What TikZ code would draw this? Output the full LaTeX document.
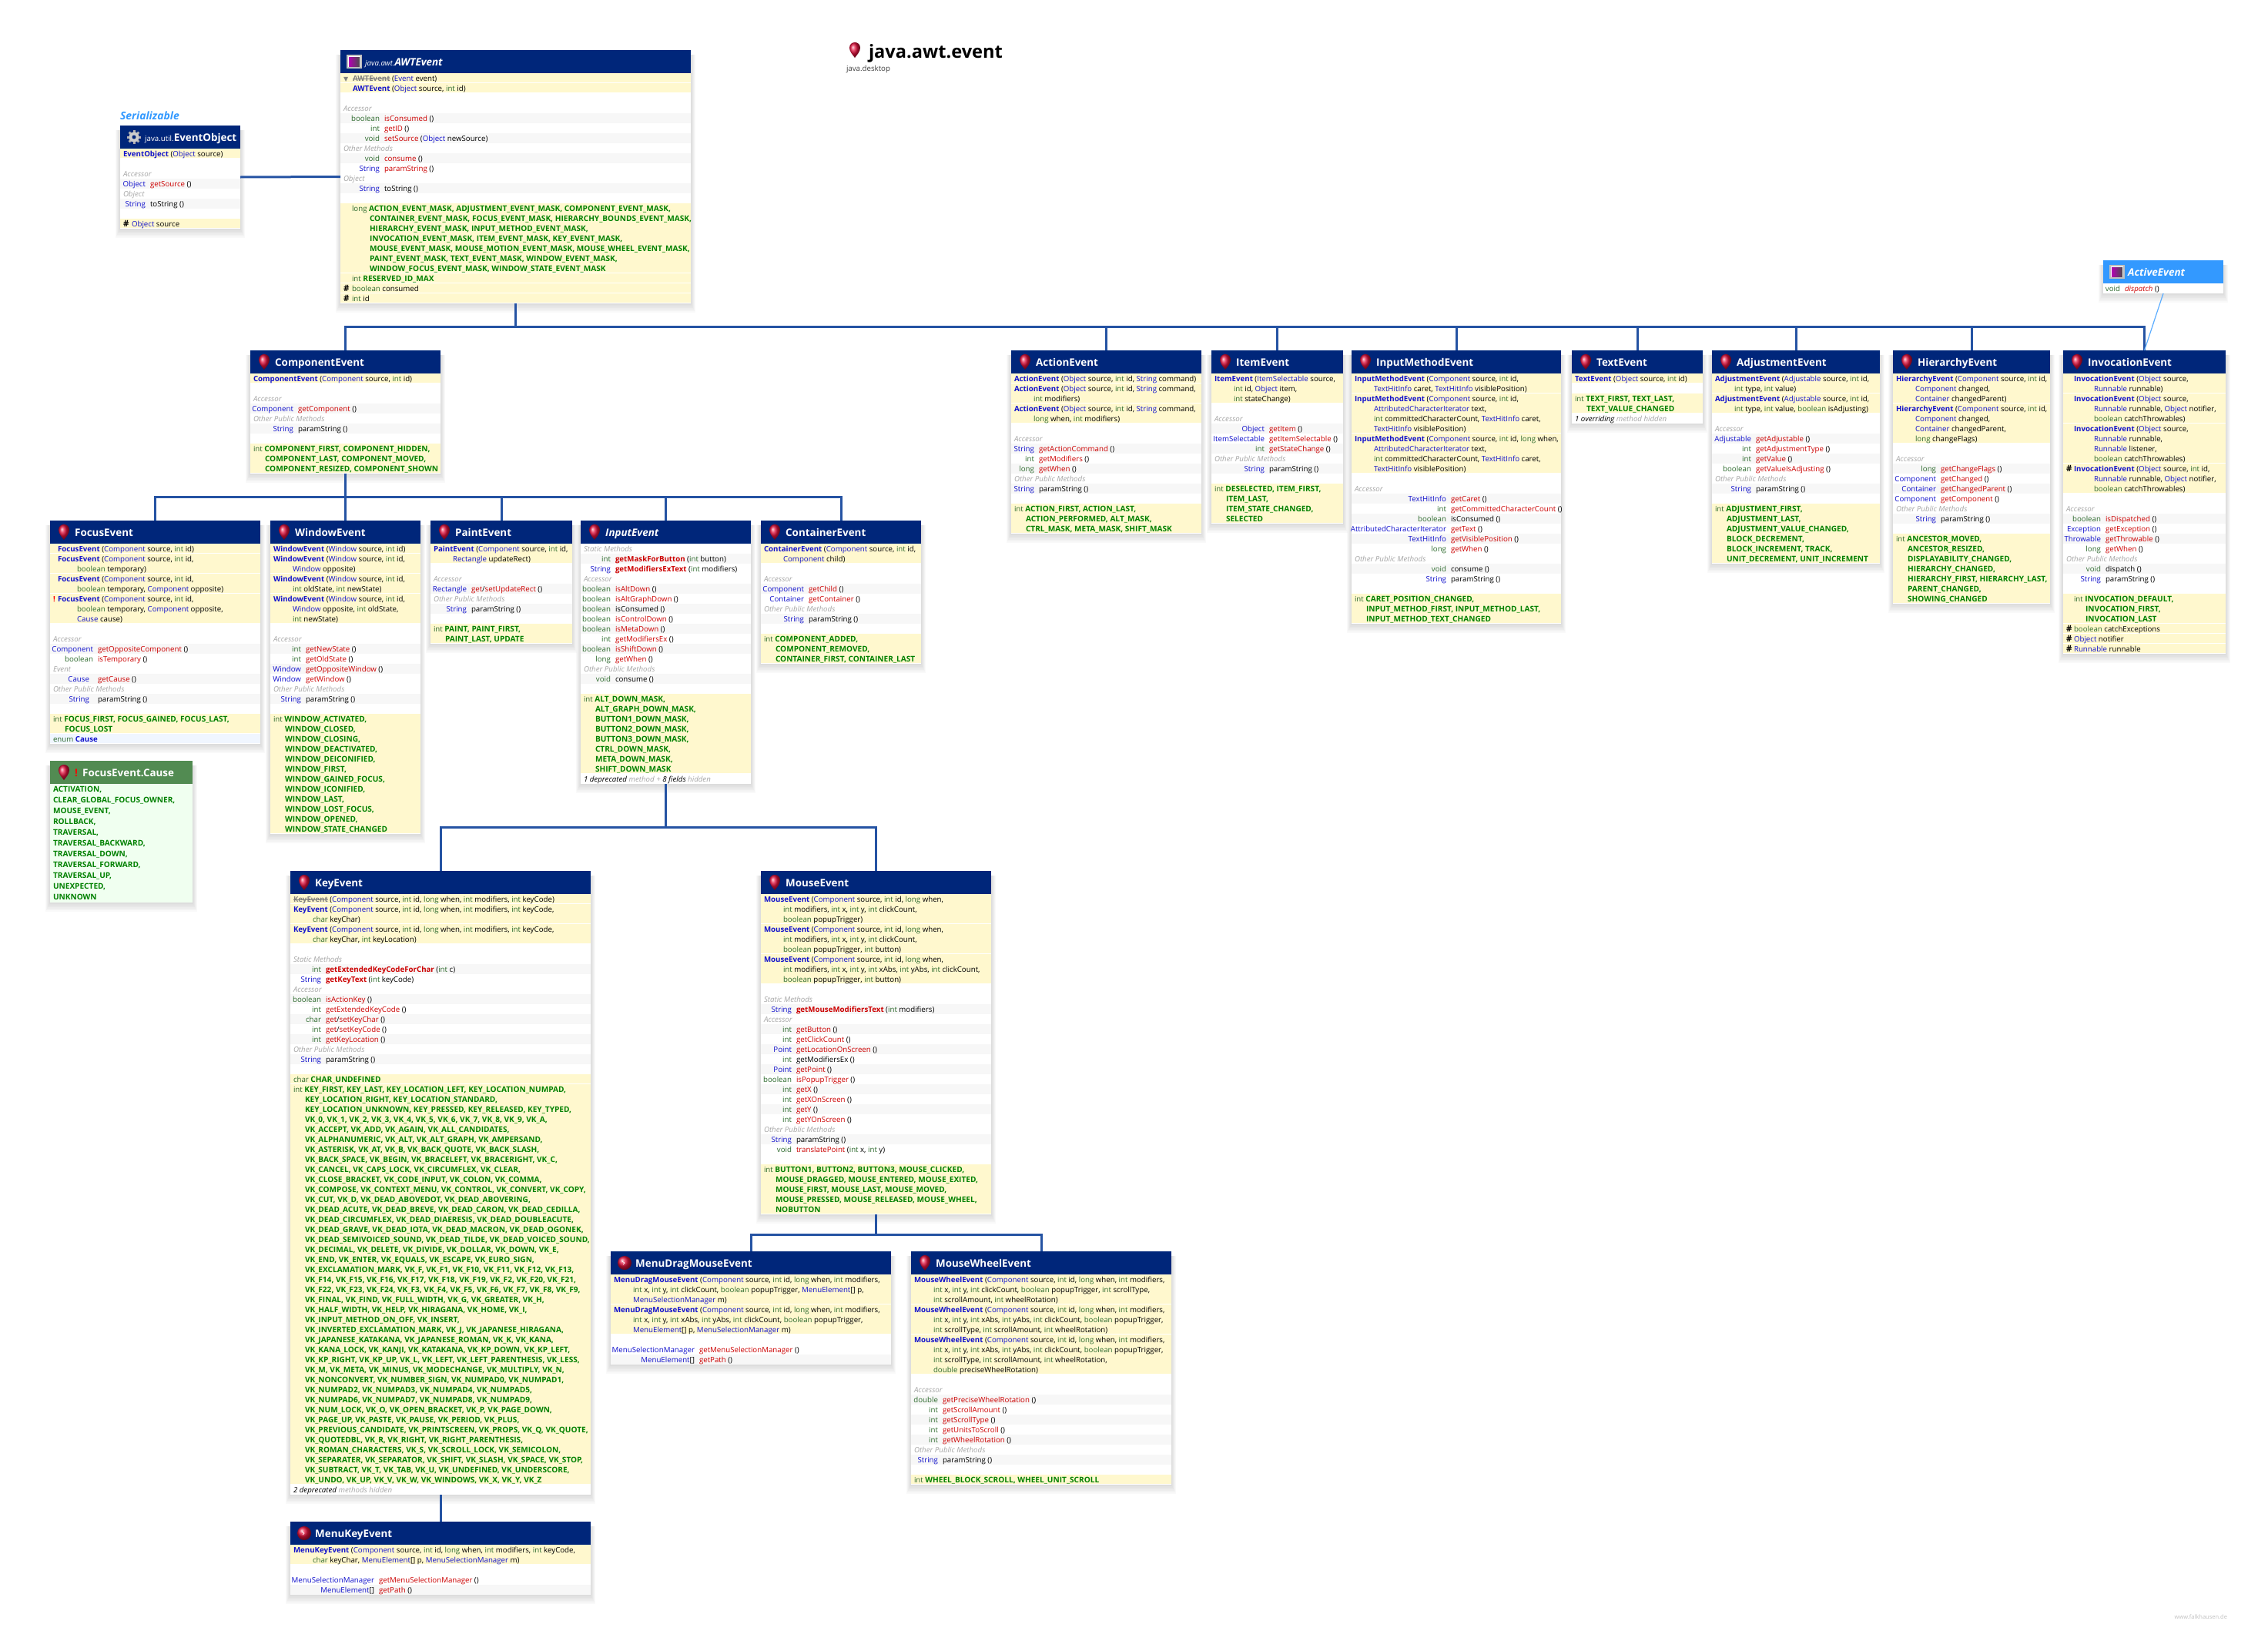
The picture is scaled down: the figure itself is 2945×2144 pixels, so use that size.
\documentclass[tikz,border=0pt]{standalone}
\usepackage{fontspec}
\setmainfont{Open Sans}
\newfontfamily\symfont{DejaVu Sans}

\definecolor{navyhead}{HTML}{00267A}
\definecolor{greenhead}{HTML}{528B52}
\definecolor{skyhead}{HTML}{3399FF}
\definecolor{bandyellow}{HTML}{FFF8CE}
\definecolor{bandblue}{HTML}{F0F6FF}
\definecolor{bandgreen}{HTML}{F0FFF0}
\definecolor{zebragray}{HTML}{F7F7F7}
\definecolor{kwgreen}{HTML}{2E6B2E}
\definecolor{tyblue}{HTML}{1111CC}
\definecolor{mtred}{HTML}{CC0000}
\definecolor{fdgreen}{HTML}{008000}
\definecolor{busblue}{HTML}{2553A3}
\definecolor{balloonred}{HTML}{E0103C}

\newcommand{\rowfont}{\fontsize{9.7}{13}\selectfont}
\newcommand{\kw}[1]{\textcolor{kwgreen}{#1}}
\newcommand{\ty}[1]{\textcolor{tyblue}{#1}}
\newcommand{\mt}[1]{\textcolor{mtred}{#1}}
\newcommand{\mbd}[1]{\textcolor{mtred}{\bfseries #1}}
\newcommand{\ct}[1]{\textcolor{tyblue}{\bfseries #1}}
\newcommand{\fd}[1]{\textcolor{fdgreen}{\fontsize{10.1}{13}\selectfont\bfseries #1}}
\newcommand{\dep}[1]{{\sbox0{\textcolor{gray}{\bfseries #1}}\usebox0\llap{\textcolor{gray}{\rule[2.6pt]{\wd0}{0.5pt}}}}}
\newcommand{\lowgray}[1]{\textcolor{black!35}{#1}}
\newcommand{\hashm}{{\fontsize{11.5}{13}\selectfont\bfseries\#}}

\tikzset{
  classbody/.style = {anchor=north west,fill=white,inner sep=0pt,outer sep=0pt},
  navyhead/.style = {anchor=north west,fill=navyhead,inner sep=0pt,outer sep=0pt},
  greenhead/.style = {anchor=north west,fill=greenhead,inner sep=0pt,outer sep=0pt},
  skyhead/.style = {anchor=north west,fill=skyhead,inner sep=0pt,outer sep=0pt},
  boxshadow/.style = {fill=black,opacity=.024},
  headtext/.style = {anchor=base west,inner sep=0pt,text=white,font=\fontsize{13.4}{15}\selectfont\bfseries},
  rowtext/.style = {anchor=base west,inner sep=0pt,outer sep=0pt,font=\rowfont},
  typetext/.style = {rowtext,anchor=base east},
  labeltext/.style = {rowtext,text=black!35,font=\rowfont\itshape},
  extends/.style = {draw=busblue,line width=3pt},
  implements/.style = {draw=skyhead!80!white,line width=1.2pt},
  pics/balloon/.style = {
    code = {
      \shade[ball color=balloonred] (0,10) .. controls (-3,6) and (-7,2) .. (-7,-3)
        .. controls (-7,-8) and (-3,-10) .. (0,-10) .. controls (3,-10) and (7,-8) .. (7,-3)
        .. controls (7,2) and (3,6) .. (0,10) -- cycle;
    }
  },
  pics/apple/.style = {
    code = {
      \shade[ball color=balloonred] (0,0) circle (9);
      \draw[white,line width=.7pt] (-3,-2) -- (0,0) -- (-2,2);
    }
  },
  pics/gearicon/.style = {
    code = {
      \foreach \a in {0,45,...,315} \draw[black!30,line width=3pt] (0,0) -- (\a:9);
      \fill[black!20] (0,0) circle (6.5);
      \fill[navyhead] (0,0) circle (2.5);
    }
  },
  pics/ifaceicon/.style = {
    code = {
      \fill[black!25] (-10,-9) rectangle (10,9);
      \fill[white] (-8,-7) rectangle (8,7);
      \shade[left color=magenta!70!black,right color=black!70] (-7,-6) rectangle (7,6);
    }
  }
}

\newcount\rowx
\newcount\rowr
\newcount\rowy
\newcount\rowno
\newif\ifzebra

% box with its header, then the rows run down from the header
\newcommand{\classbox}[8][navyhead]{%
  \foreach \s in {1,...,6} \fill[boxshadow] (#3-\s,#4+6) rectangle (#5+\s,#6+2*\s);
  \node[classbody,minimum width={(#5-#3)*1pt},minimum height={(#6-#4)*1pt}] (#2) at (#3,#4) {};
  \node[#1,minimum width={(#5-#3)*1pt},minimum height=30pt] (#2head) at (#2.north west) {};
  \pic at (#3+18,#4+15) {#7};
  \node[headtext] (#2title) at (#3+32,#4+20) {#8};
  \global\rowx=#3\relax
  \global\rowr=#5\relax
  \global\rowy=\numexpr#4+30\relax
  \global\zebrafalse
}
\newcommand{\band}[2][bandyellow]{%
  \fill[#1] (\the\rowx,\the\rowy) rectangle (\the\rowr,\the\numexpr\rowy+13*#2-1\relax);
}
\newcommand{\tline}[2]{%
  \global\advance\rowno by 1
  \node[rowtext] (row\the\rowno) at (\the\numexpr\rowx+#1\relax,\the\numexpr\rowy+10\relax) {#2};
  \global\advance\rowy by 13
}
\newcommand{\fl}[1]{\tline{19}{\fd{#1}}}
\newcommand{\rmark}[1]{%
  \global\advance\rowno by 1
  \node[rowtext] (row\the\rowno) at (\the\numexpr\rowx+4\relax,\the\numexpr\rowy+10\relax) {#1};
}
\newcommand{\gap}{\global\advance\rowy by 13 \global\zebrafalse}
\newcommand{\grp}[1]{%
  \global\advance\rowno by 1
  \node[labeltext] (row\the\rowno) at (\the\numexpr\rowx+4\relax,\the\numexpr\rowy+10\relax) {#1};
  \global\advance\rowy by 13
  \global\zebratrue
}
\newcommand{\meth}[3]{%
  \ifzebra \fill[zebragray] (\the\rowx,\the\rowy) rectangle (\the\rowr,\the\numexpr\rowy+13\relax); \global\zebrafalse \else \global\zebratrue \fi
  \global\advance\rowno by 1
  \node[typetext] (row\the\rowno t) at (\the\numexpr\rowx+#1\relax,\the\numexpr\rowy+10\relax) {#2};
  \node[rowtext] (row\the\rowno) at (\the\numexpr\rowx+#1+6\relax,\the\numexpr\rowy+10\relax) {#3};
  \global\advance\rowy by 13
}

\begin{document}
\begin{tikzpicture}[x=1pt,y=-1pt]
  \useasboundingbox (0,0) rectangle (2945,2144);

  % page title
  \pic at (1110,65) {balloon};
  \node[rowtext,font=\fontsize{23.6}{26}\selectfont\bfseries] (pkgname) at (1128,75) {java.awt.event};
  \node[rowtext,text=black!75] (modname) at (1099,92) {java.desktop};
  \node[rowtext,anchor=base east,text=black!25,font=\fontsize{7.5}{9}\selectfont] (siteurl) at (2892,2102) {www.falkhausen.de};

  % EventObject
  \node[rowtext,text=skyhead,font=\fontsize{14}{16}\selectfont\bfseries\itshape] (serialname) at (156,155) {Serializable};
  \classbox{EventObject}{156}{163}{312}{297}{gearicon}{{\rowfont\mdseries java.util.}EventObject}
  \band{1}\tline{4}{\ct{EventObject} (\ty{Object} source)}
  \gap
  \grp{Accessor}
  \meth{33}{\ty{Object}}{\mt{getSource} ()}
  \grp{Object}
  \meth{33}{\ty{String}}{toString ()}
  \gap
  \band{1}\rmark{\hashm}\tline{15}{\ty{Object} source}

  % AWTEvent
  \classbox{AWTEvent}{442}{65}{897}{394}{ifaceicon}{\itshape{\rowfont\mdseries java.awt.}AWTEvent}
  \band{1}\rmark{\textcolor{gray}{\symfont\fontsize{8}{9}\selectfont ▼}}\tline{16}{\dep{AWTEvent} (\ty{Event} event)}
  \band{1}\tline{16}{\ct{AWTEvent} (\ty{Object} source, \kw{int} id)}
  \gap
  \grp{Accessor}
  \rmark{\hashm}\meth{51}{\kw{boolean}}{\mt{isConsumed} ()}
  \meth{51}{\kw{int}}{\mt{getID} ()}
  \meth{51}{\kw{void}}{\mt{setSource} (\ty{Object} newSource)}
  \grp{Other Methods}
  \rmark{\hashm}\meth{51}{\kw{void}}{\mt{consume} ()}
  \meth{51}{\ty{String}}{\mt{paramString} ()}
  \grp{Object}
  \meth{51}{\ty{String}}{toString ()}
  \gap
  \band{7}
  \tline{15}{\kw{long} \fd{ACTION\_EVENT\_MASK, ADJUSTMENT\_EVENT\_MASK, COMPONENT\_EVENT\_MASK,}}
  \tline{38}{\fd{CONTAINER\_EVENT\_MASK, FOCUS\_EVENT\_MASK, HIERARCHY\_BOUNDS\_EVENT\_MASK,}}
  \tline{38}{\fd{HIERARCHY\_EVENT\_MASK, INPUT\_METHOD\_EVENT\_MASK,}}
  \tline{38}{\fd{INVOCATION\_EVENT\_MASK, ITEM\_EVENT\_MASK, KEY\_EVENT\_MASK,}}
  \tline{38}{\fd{MOUSE\_EVENT\_MASK, MOUSE\_MOTION\_EVENT\_MASK, MOUSE\_WHEEL\_EVENT\_MASK,}}
  \tline{38}{\fd{PAINT\_EVENT\_MASK, TEXT\_EVENT\_MASK, WINDOW\_EVENT\_MASK,}}
  \tline{38}{\fd{WINDOW\_FOCUS\_EVENT\_MASK, WINDOW\_STATE\_EVENT\_MASK}}
  \band{1}\tline{15}{\kw{int} \fd{RESERVED\_ID\_MAX}}
  \band{1}\rmark{\hashm}\tline{15}{\kw{boolean} consumed}
  \band{1}\rmark{\hashm}\tline{15}{\kw{int} id}

  % ComponentEvent
  \classbox{ComponentEvent}{325}{455}{572}{615}{balloon}{ComponentEvent}
  \band{1}\tline{4}{\ct{ComponentEvent} (\ty{Component} source, \kw{int} id)}
  \gap
  \grp{Accessor}
  \meth{56}{\ty{Component}}{\mt{getComponent} ()}
  \grp{Other Public Methods}
  \meth{56}{\ty{String}}{paramString ()}
  \gap
  \band{3}
  \tline{4}{\kw{int} \fd{COMPONENT\_FIRST, COMPONENT\_HIDDEN,}}
  \fl{COMPONENT\_LAST, COMPONENT\_MOVED,}
  \fl{COMPONENT\_RESIZED, COMPONENT\_SHOWN}

  % FocusEvent
  \classbox{FocusEvent}{65}{676}{338}{966}{balloon}{FocusEvent}
  \band{1}\tline{10}{\ct{FocusEvent} (\ty{Component} source, \kw{int} id)}
  \band{2}\tline{10}{\ct{FocusEvent} (\ty{Component} source, \kw{int} id,}
  \tline{35}{\kw{boolean} temporary)}
  \band{2}\tline{10}{\ct{FocusEvent} (\ty{Component} source, \kw{int} id,}
  \tline{35}{\kw{boolean} temporary, \ty{Component} opposite)}
  \band{3}\rmark{\textcolor{red}{\textbf{!}}}\tline{10}{\ct{FocusEvent} (\ty{Component} source, \kw{int} id,}
  \tline{35}{\kw{boolean} temporary, \ty{Component} opposite,}
  \tline{35}{\ty{Cause} cause)}
  \gap
  \grp{Accessor}
  \meth{56}{\ty{Component}}{\mt{getOppositeComponent} ()}
  \meth{56}{\kw{boolean}}{\mt{isTemporary} ()}
  \grp{Event}
  \rmark{\raisebox{2pt}{\fontsize{6}{7}\selectfont F}\textcolor{red}{\textbf{!}}}\meth{51}{\ty{Cause}}{\hspace*{5pt}\mt{getCause} ()}
  \grp{Other Public Methods}
  \meth{51}{\ty{String}}{\hspace*{5pt}paramString ()}
  \gap
  \band{2}
  \tline{4}{\kw{int} \fd{FOCUS\_FIRST, FOCUS\_GAINED, FOCUS\_LAST,}}
  \fl{FOCUS\_LOST}
  \band[bandblue]{1}\tline{4}{\kw{enum} \ct{Cause}}

  % FocusEvent.Cause
  \classbox[greenhead]{FocusCause}{65}{988}{250}{1172}{balloon}{\hspace*{10pt}FocusEvent.Cause}
  \node[headtext,text=red] (causemark) at (97,1008) {!};
  \fill[bandgreen] (FocusCausehead.south west) rectangle (FocusCause.south east);
  \foreach \cval in {ACTIVATION,CLEAR\_GLOBAL\_FOCUS\_OWNER,MOUSE\_EVENT,ROLLBACK,TRAVERSAL,TRAVERSAL\_BACKWARD,TRAVERSAL\_DOWN,TRAVERSAL\_FORWARD,TRAVERSAL\_UP,UNEXPECTED} {
    \tline{4}{\fd{\cval,}}
    \global\advance\rowy by 1
  }
  \tline{4}{\fd{UNKNOWN}}

  % WindowEvent
  \classbox{WindowEvent}{351}{676}{546}{1083}{balloon}{WindowEvent}
  \band{1}\tline{4}{\ct{WindowEvent} (\ty{Window} source, \kw{int} id)}
  \band{2}\tline{4}{\ct{WindowEvent} (\ty{Window} source, \kw{int} id,}
  \tline{29}{\ty{Window} opposite)}
  \band{2}\tline{4}{\ct{WindowEvent} (\ty{Window} source, \kw{int} id,}
  \tline{29}{\kw{int} oldState, \kw{int} newState)}
  \band{3}\tline{4}{\ct{WindowEvent} (\ty{Window} source, \kw{int} id,}
  \tline{29}{\ty{Window} opposite, \kw{int} oldState,}
  \tline{29}{\kw{int} newState)}
  \gap
  \grp{Accessor}
  \meth{40}{\kw{int}}{\mt{getNewState} ()}
  \meth{40}{\kw{int}}{\mt{getOldState} ()}
  \meth{40}{\ty{Window}}{\mt{getOppositeWindow} ()}
  \meth{40}{\ty{Window}}{\mt{getWindow} ()}
  \grp{Other Public Methods}
  \meth{40}{\ty{String}}{paramString ()}
  \gap
  \band{12}
  \tline{4}{\kw{int} \fd{WINDOW\_ACTIVATED,}}
  \fl{WINDOW\_CLOSED,}
  \fl{WINDOW\_CLOSING,}
  \fl{WINDOW\_DEACTIVATED,}
  \fl{WINDOW\_DEICONIFIED,}
  \fl{WINDOW\_FIRST,}
  \fl{WINDOW\_GAINED\_FOCUS,}
  \fl{WINDOW\_ICONIFIED,}
  \fl{WINDOW\_LAST,}
  \fl{WINDOW\_LOST\_FOCUS,}
  \fl{WINDOW\_OPENED,}
  \fl{WINDOW\_STATE\_CHANGED}

  % PaintEvent
  \classbox{PaintEvent}{559}{676}{743}{836}{balloon}{PaintEvent}
  \band{2}\tline{4}{\ct{PaintEvent} (\ty{Component} source, \kw{int} id,}
  \tline{29}{\ty{Rectangle} updateRect)}
  \gap
  \grp{Accessor}
  \meth{47}{\ty{Rectangle}}{\mt{get}/\mt{setUpdateRect} ()}
  \grp{Other Public Methods}
  \meth{47}{\ty{String}}{paramString ()}
  \gap
  \band{2}
  \tline{4}{\kw{int} \fd{PAINT, PAINT\_FIRST,}}
  \fl{PAINT\_LAST, UPDATE}

  % InputEvent
  \classbox{InputEvent}{754}{676}{975}{1018}{balloon}{\itshape InputEvent}
  \grp{Static Methods}
  \meth{39}{\kw{int}}{\mbd{getMaskForButton} (\kw{int} button)}
  \meth{39}{\ty{String}}{\mbd{getModifiersExText} (\kw{int} modifiers)}
  \grp{Accessor}
  \meth{39}{\kw{boolean}}{\mt{isAltDown} ()}
  \meth{39}{\kw{boolean}}{\mt{isAltGraphDown} ()}
  \meth{39}{\kw{boolean}}{isConsumed ()}
  \meth{39}{\kw{boolean}}{\mt{isControlDown} ()}
  \meth{39}{\kw{boolean}}{\mt{isMetaDown} ()}
  \meth{39}{\kw{int}}{\mt{getModifiersEx} ()}
  \meth{39}{\kw{boolean}}{\mt{isShiftDown} ()}
  \meth{39}{\kw{long}}{\mt{getWhen} ()}
  \grp{Other Public Methods}
  \meth{39}{\kw{void}}{consume ()}
  \gap
  \band{8}
  \tline{4}{\kw{int} \fd{ALT\_DOWN\_MASK,}}
  \fl{ALT\_GRAPH\_DOWN\_MASK,}
  \fl{BUTTON1\_DOWN\_MASK,}
  \fl{BUTTON2\_DOWN\_MASK,}
  \fl{BUTTON3\_DOWN\_MASK,}
  \fl{CTRL\_DOWN\_MASK,}
  \fl{META\_DOWN\_MASK,}
  \fl{SHIFT\_DOWN\_MASK}
  \tline{4}{\itshape 1 deprecated \lowgray{method +} 8 fields \lowgray{hidden}}

  % ContainerEvent
  \classbox{ContainerEvent}{988}{676}{1196}{862}{balloon}{ContainerEvent}
  \band{2}\tline{4}{\ct{ContainerEvent} (\ty{Component} source, \kw{int} id,}
  \tline{29}{\ty{Component} child)}
  \gap
  \grp{Accessor}
  \meth{56}{\ty{Component}}{\mt{getChild} ()}
  \meth{56}{\ty{Container}}{\mt{getContainer} ()}
  \grp{Other Public Methods}
  \meth{56}{\ty{String}}{paramString ()}
  \gap
  \band{3}
  \tline{4}{\kw{int} \fd{COMPONENT\_ADDED,}}
  \fl{COMPONENT\_REMOVED,}
  \fl{CONTAINER\_FIRST, CONTAINER\_LAST}

  % KeyEvent
  \classbox{KeyEvent}{377}{1131}{767}{1941}{balloon}{KeyEvent}
  \band{1}\tline{4}{\dep{KeyEvent} (\ty{Component} source, \kw{int} id, \kw{long} when, \kw{int} modifiers, \kw{int} keyCode)}
  \band{2}\tline{4}{\ct{KeyEvent} (\ty{Component} source, \kw{int} id, \kw{long} when, \kw{int} modifiers, \kw{int} keyCode,}
  \tline{29}{\kw{char} keyChar)}
  \band{2}\tline{4}{\ct{KeyEvent} (\ty{Component} source, \kw{int} id, \kw{long} when, \kw{int} modifiers, \kw{int} keyCode,}
  \tline{29}{\kw{char} keyChar, \kw{int} keyLocation)}
  \gap
  \grp{Static Methods}
  \meth{40}{\kw{int}}{\mbd{getExtendedKeyCodeForChar} (\kw{int} c)}
  \meth{40}{\ty{String}}{\mbd{getKeyText} (\kw{int} keyCode)}
  \grp{Accessor}
  \meth{40}{\kw{boolean}}{\mt{isActionKey} ()}
  \meth{40}{\kw{int}}{\mt{getExtendedKeyCode} ()}
  \meth{40}{\kw{char}}{\mt{get}/\mt{setKeyChar} ()}
  \meth{40}{\kw{int}}{\mt{get}/\mt{setKeyCode} ()}
  \meth{40}{\kw{int}}{\mt{getKeyLocation} ()}
  \grp{Other Public Methods}
  \meth{40}{\ty{String}}{paramString ()}
  \gap
  \band{1}\tline{4}{\kw{char} \fd{CHAR\_UNDEFINED}}
  \band{40}
  \tline{4}{\kw{int} \fd{KEY\_FIRST, KEY\_LAST, KEY\_LOCATION\_LEFT, KEY\_LOCATION\_NUMPAD,}}
  \fl{KEY\_LOCATION\_RIGHT, KEY\_LOCATION\_STANDARD,}
  \fl{KEY\_LOCATION\_UNKNOWN, KEY\_PRESSED, KEY\_RELEASED, KEY\_TYPED,}
  \fl{VK\_0, VK\_1, VK\_2, VK\_3, VK\_4, VK\_5, VK\_6, VK\_7, VK\_8, VK\_9, VK\_A,}
  \fl{VK\_ACCEPT, VK\_ADD, VK\_AGAIN, VK\_ALL\_CANDIDATES,}
  \fl{VK\_ALPHANUMERIC, VK\_ALT, VK\_ALT\_GRAPH, VK\_AMPERSAND,}
  \fl{VK\_ASTERISK, VK\_AT, VK\_B, VK\_BACK\_QUOTE, VK\_BACK\_SLASH,}
  \fl{VK\_BACK\_SPACE, VK\_BEGIN, VK\_BRACELEFT, VK\_BRACERIGHT, VK\_C,}
  \fl{VK\_CANCEL, VK\_CAPS\_LOCK, VK\_CIRCUMFLEX, VK\_CLEAR,}
  \fl{VK\_CLOSE\_BRACKET, VK\_CODE\_INPUT, VK\_COLON, VK\_COMMA,}
  \fl{VK\_COMPOSE, VK\_CONTEXT\_MENU, VK\_CONTROL, VK\_CONVERT, VK\_COPY,}
  \fl{VK\_CUT, VK\_D, VK\_DEAD\_ABOVEDOT, VK\_DEAD\_ABOVERING,}
  \fl{VK\_DEAD\_ACUTE, VK\_DEAD\_BREVE, VK\_DEAD\_CARON, VK\_DEAD\_CEDILLA,}
  \fl{VK\_DEAD\_CIRCUMFLEX, VK\_DEAD\_DIAERESIS, VK\_DEAD\_DOUBLEACUTE,}
  \fl{VK\_DEAD\_GRAVE, VK\_DEAD\_IOTA, VK\_DEAD\_MACRON, VK\_DEAD\_OGONEK,}
  \fl{VK\_DEAD\_SEMIVOICED\_SOUND, VK\_DEAD\_TILDE, VK\_DEAD\_VOICED\_SOUND,}
  \fl{VK\_DECIMAL, VK\_DELETE, VK\_DIVIDE, VK\_DOLLAR, VK\_DOWN, VK\_E,}
  \fl{VK\_END, VK\_ENTER, VK\_EQUALS, VK\_ESCAPE, VK\_EURO\_SIGN,}
  \fl{VK\_EXCLAMATION\_MARK, VK\_F, VK\_F1, VK\_F10, VK\_F11, VK\_F12, VK\_F13,}
  \fl{VK\_F14, VK\_F15, VK\_F16, VK\_F17, VK\_F18, VK\_F19, VK\_F2, VK\_F20, VK\_F21,}
  \fl{VK\_F22, VK\_F23, VK\_F24, VK\_F3, VK\_F4, VK\_F5, VK\_F6, VK\_F7, VK\_F8, VK\_F9,}
  \fl{VK\_FINAL, VK\_FIND, VK\_FULL\_WIDTH, VK\_G, VK\_GREATER, VK\_H,}
  \fl{VK\_HALF\_WIDTH, VK\_HELP, VK\_HIRAGANA, VK\_HOME, VK\_I,}
  \fl{VK\_INPUT\_METHOD\_ON\_OFF, VK\_INSERT,}
  \fl{VK\_INVERTED\_EXCLAMATION\_MARK, VK\_J, VK\_JAPANESE\_HIRAGANA,}
  \fl{VK\_JAPANESE\_KATAKANA, VK\_JAPANESE\_ROMAN, VK\_K, VK\_KANA,}
  \fl{VK\_KANA\_LOCK, VK\_KANJI, VK\_KATAKANA, VK\_KP\_DOWN, VK\_KP\_LEFT,}
  \fl{VK\_KP\_RIGHT, VK\_KP\_UP, VK\_L, VK\_LEFT, VK\_LEFT\_PARENTHESIS, VK\_LESS,}
  \fl{VK\_M, VK\_META, VK\_MINUS, VK\_MODECHANGE, VK\_MULTIPLY, VK\_N,}
  \fl{VK\_NONCONVERT, VK\_NUMBER\_SIGN, VK\_NUMPAD0, VK\_NUMPAD1,}
  \fl{VK\_NUMPAD2, VK\_NUMPAD3, VK\_NUMPAD4, VK\_NUMPAD5,}
  \fl{VK\_NUMPAD6, VK\_NUMPAD7, VK\_NUMPAD8, VK\_NUMPAD9,}
  \fl{VK\_NUM\_LOCK, VK\_O, VK\_OPEN\_BRACKET, VK\_P, VK\_PAGE\_DOWN,}
  \fl{VK\_PAGE\_UP, VK\_PASTE, VK\_PAUSE, VK\_PERIOD, VK\_PLUS,}
  \fl{VK\_PREVIOUS\_CANDIDATE, VK\_PRINTSCREEN, VK\_PROPS, VK\_Q, VK\_QUOTE,}
  \fl{VK\_QUOTEDBL, VK\_R, VK\_RIGHT, VK\_RIGHT\_PARENTHESIS,}
  \fl{VK\_ROMAN\_CHARACTERS, VK\_S, VK\_SCROLL\_LOCK, VK\_SEMICOLON,}
  \fl{VK\_SEPARATER, VK\_SEPARATOR, VK\_SHIFT, VK\_SLASH, VK\_SPACE, VK\_STOP,}
  \fl{VK\_SUBTRACT, VK\_T, VK\_TAB, VK\_U, VK\_UNDEFINED, VK\_UNDERSCORE,}
  \fl{VK\_UNDO, VK\_UP, VK\_V, VK\_W, VK\_WINDOWS, VK\_X, VK\_Y, VK\_Z}
  \tline{4}{\itshape 2 deprecated \lowgray{methods hidden}}

  % MenuKeyEvent
  \classbox{MenuKeyEvent}{377}{1976}{767}{2071}{apple}{MenuKeyEvent}
  \band{2}\tline{4}{\ct{MenuKeyEvent} (\ty{Component} source, \kw{int} id, \kw{long} when, \kw{int} modifiers, \kw{int} keyCode,}
  \tline{29}{\kw{char} keyChar, \ty{MenuElement}[] p, \ty{MenuSelectionManager} m)}
  \gap
  \meth{109}{\ty{MenuSelectionManager}}{\mt{getMenuSelectionManager} ()}
  \meth{109}{\ty{MenuElement}[]}{\mt{getPath} ()}

  % MouseEvent
  \classbox{MouseEvent}{988}{1131}{1287}{1577}{balloon}{MouseEvent}
  \band{3}\tline{4}{\ct{MouseEvent} (\ty{Component} source, \kw{int} id, \kw{long} when,}
  \tline{29}{\kw{int} modifiers, \kw{int} x, \kw{int} y, \kw{int} clickCount,}
  \tline{29}{\kw{boolean} popupTrigger)}
  \band{3}\tline{4}{\ct{MouseEvent} (\ty{Component} source, \kw{int} id, \kw{long} when,}
  \tline{29}{\kw{int} modifiers, \kw{int} x, \kw{int} y, \kw{int} clickCount,}
  \tline{29}{\kw{boolean} popupTrigger, \kw{int} button)}
  \band{3}\tline{4}{\ct{MouseEvent} (\ty{Component} source, \kw{int} id, \kw{long} when,}
  \tline{29}{\kw{int} modifiers, \kw{int} x, \kw{int} y, \kw{int} xAbs, \kw{int} yAbs, \kw{int} clickCount,}
  \tline{29}{\kw{boolean} popupTrigger, \kw{int} button)}
  \gap
  \grp{Static Methods}
  \meth{40}{\ty{String}}{\mbd{getMouseModifiersText} (\kw{int} modifiers)}
  \grp{Accessor}
  \meth{40}{\kw{int}}{\mt{getButton} ()}
  \meth{40}{\kw{int}}{\mt{getClickCount} ()}
  \meth{40}{\ty{Point}}{\mt{getLocationOnScreen} ()}
  \meth{40}{\kw{int}}{getModifiersEx ()}
  \meth{40}{\ty{Point}}{\mt{getPoint} ()}
  \meth{40}{\kw{boolean}}{\mt{isPopupTrigger} ()}
  \meth{40}{\kw{int}}{\mt{getX} ()}
  \meth{40}{\kw{int}}{\mt{getXOnScreen} ()}
  \meth{40}{\kw{int}}{\mt{getY} ()}
  \meth{40}{\kw{int}}{\mt{getYOnScreen} ()}
  \grp{Other Public Methods}
  \meth{40}{\ty{String}}{paramString ()}
  \meth{40}{\kw{void}}{\mt{translatePoint} (\kw{int} x, \kw{int} y)}
  \gap
  \band{5}
  \tline{4}{\kw{int} \fd{BUTTON1, BUTTON2, BUTTON3, MOUSE\_CLICKED,}}
  \fl{MOUSE\_DRAGGED, MOUSE\_ENTERED, MOUSE\_EXITED,}
  \fl{MOUSE\_FIRST, MOUSE\_LAST, MOUSE\_MOVED,}
  \fl{MOUSE\_PRESSED, MOUSE\_RELEASED, MOUSE\_WHEEL,}
  \fl{NOBUTTON}

  % MenuDragMouseEvent
  \classbox{MenuDragMouseEvent}{793}{1625}{1157}{1772}{apple}{MenuDragMouseEvent}
  \band{3}\tline{4}{\ct{MenuDragMouseEvent} (\ty{Component} source, \kw{int} id, \kw{long} when, \kw{int} modifiers,}
  \tline{29}{\kw{int} x, \kw{int} y, \kw{int} clickCount, \kw{boolean} popupTrigger, \ty{MenuElement}[] p,}
  \tline{29}{\ty{MenuSelectionManager} m)}
  \band{3}\tline{4}{\ct{MenuDragMouseEvent} (\ty{Component} source, \kw{int} id, \kw{long} when, \kw{int} modifiers,}
  \tline{29}{\kw{int} x, \kw{int} y, \kw{int} xAbs, \kw{int} yAbs, \kw{int} clickCount, \kw{boolean} popupTrigger,}
  \tline{29}{\ty{MenuElement}[] p, \ty{MenuSelectionManager} m)}
  \gap
  \meth{109}{\ty{MenuSelectionManager}}{\mt{getMenuSelectionManager} ()}
  \meth{109}{\ty{MenuElement}[]}{\mt{getPath} ()}

  % MouseWheelEvent
  \classbox{MouseWheelEvent}{1183}{1625}{1521}{1928}{balloon}{MouseWheelEvent}
  \band{3}\tline{4}{\ct{MouseWheelEvent} (\ty{Component} source, \kw{int} id, \kw{long} when, \kw{int} modifiers,}
  \tline{29}{\kw{int} x, \kw{int} y, \kw{int} clickCount, \kw{boolean} popupTrigger, \kw{int} scrollType,}
  \tline{29}{\kw{int} scrollAmount, \kw{int} wheelRotation)}
  \band{3}\tline{4}{\ct{MouseWheelEvent} (\ty{Component} source, \kw{int} id, \kw{long} when, \kw{int} modifiers,}
  \tline{29}{\kw{int} x, \kw{int} y, \kw{int} xAbs, \kw{int} yAbs, \kw{int} clickCount, \kw{boolean} popupTrigger,}
  \tline{29}{\kw{int} scrollType, \kw{int} scrollAmount, \kw{int} wheelRotation)}
  \band{4}\tline{4}{\ct{MouseWheelEvent} (\ty{Component} source, \kw{int} id, \kw{long} when, \kw{int} modifiers,}
  \tline{29}{\kw{int} x, \kw{int} y, \kw{int} xAbs, \kw{int} yAbs, \kw{int} clickCount, \kw{boolean} popupTrigger,}
  \tline{29}{\kw{int} scrollType, \kw{int} scrollAmount, \kw{int} wheelRotation,}
  \tline{29}{\kw{double} preciseWheelRotation)}
  \gap
  \grp{Accessor}
  \meth{35}{\kw{double}}{\mt{getPreciseWheelRotation} ()}
  \meth{35}{\kw{int}}{\mt{getScrollAmount} ()}
  \meth{35}{\kw{int}}{\mt{getScrollType} ()}
  \meth{35}{\kw{int}}{\mt{getUnitsToScroll} ()}
  \meth{35}{\kw{int}}{\mt{getWheelRotation} ()}
  \grp{Other Public Methods}
  \meth{35}{\ty{String}}{paramString ()}
  \gap
  \band{1}\tline{4}{\kw{int} \fd{WHEEL\_BLOCK\_SCROLL, WHEEL\_UNIT\_SCROLL}}

  % ActionEvent
  \classbox{ActionEvent}{1313}{455}{1560}{693}{balloon}{ActionEvent}
  \band{1}\tline{4}{\ct{ActionEvent} (\ty{Object} source, \kw{int} id, \ty{String} command)}
  \band{2}\tline{4}{\ct{ActionEvent} (\ty{Object} source, \kw{int} id, \ty{String} command,}
  \tline{29}{\kw{int} modifiers)}
  \band{2}\tline{4}{\ct{ActionEvent} (\ty{Object} source, \kw{int} id, \ty{String} command,}
  \tline{29}{\kw{long} when, \kw{int} modifiers)}
  \gap
  \grp{Accessor}
  \meth{30}{\ty{String}}{\mt{getActionCommand} ()}
  \meth{30}{\kw{int}}{\mt{getModifiers} ()}
  \meth{30}{\kw{long}}{\mt{getWhen} ()}
  \grp{Other Public Methods}
  \meth{30}{\ty{String}}{paramString ()}
  \gap
  \band{3}
  \tline{4}{\kw{int} \fd{ACTION\_FIRST, ACTION\_LAST,}}
  \fl{ACTION\_PERFORMED, ALT\_MASK,}
  \fl{CTRL\_MASK, META\_MASK, SHIFT\_MASK}

  % ItemEvent
  \classbox{ItemEvent}{1573}{455}{1744}{680}{balloon}{ItemEvent}
  \band{3}\tline{4}{\ct{ItemEvent} (\ty{ItemSelectable} source,}
  \tline{29}{\kw{int} id, \ty{Object} item,}
  \tline{29}{\kw{int} stateChange)}
  \gap
  \grp{Accessor}
  \meth{69}{\ty{Object}}{\mt{getItem} ()}
  \meth{69}{\ty{ItemSelectable}}{\mt{getItemSelectable} ()}
  \meth{69}{\kw{int}}{\mt{getStateChange} ()}
  \grp{Other Public Methods}
  \meth{69}{\ty{String}}{paramString ()}
  \gap
  \band{4}
  \tline{4}{\kw{int} \fd{DESELECTED, ITEM\_FIRST,}}
  \fl{ITEM\_LAST,}
  \fl{ITEM\_STATE\_CHANGED,}
  \fl{SELECTED}

  % InputMethodEvent
  \classbox{InputMethodEvent}{1755}{455}{2027}{810}{balloon}{InputMethodEvent}
  \band{2}\tline{4}{\ct{InputMethodEvent} (\ty{Component} source, \kw{int} id,}
  \tline{29}{\ty{TextHitInfo} caret, \ty{TextHitInfo} visiblePosition)}
  \band{4}\tline{4}{\ct{InputMethodEvent} (\ty{Component} source, \kw{int} id,}
  \tline{29}{\ty{AttributedCharacterIterator} text,}
  \tline{29}{\kw{int} committedCharacterCount, \ty{TextHitInfo} caret,}
  \tline{29}{\ty{TextHitInfo} visiblePosition)}
  \band{4}\tline{4}{\ct{InputMethodEvent} (\ty{Component} source, \kw{int} id, \kw{long} when,}
  \tline{29}{\ty{AttributedCharacterIterator} text,}
  \tline{29}{\kw{int} committedCharacterCount, \ty{TextHitInfo} caret,}
  \tline{29}{\ty{TextHitInfo} visiblePosition)}
  \gap
  \grp{Accessor}
  \meth{123}{\ty{TextHitInfo}}{\mt{getCaret} ()}
  \meth{123}{\kw{int}}{\mt{getCommittedCharacterCount} ()}
  \meth{123}{\kw{boolean}}{isConsumed ()}
  \meth{123}{\ty{AttributedCharacterIterator}}{\mt{getText} ()}
  \meth{123}{\ty{TextHitInfo}}{\mt{getVisiblePosition} ()}
  \meth{123}{\kw{long}}{\mt{getWhen} ()}
  \grp{Other Public Methods}
  \meth{123}{\kw{void}}{consume ()}
  \meth{123}{\ty{String}}{paramString ()}
  \gap
  \band{3}
  \tline{4}{\kw{int} \fd{CARET\_POSITION\_CHANGED,}}
  \fl{INPUT\_METHOD\_FIRST, INPUT\_METHOD\_LAST,}
  \fl{INPUT\_METHOD\_TEXT\_CHANGED}

  % TextEvent
  \classbox{TextEvent}{2041}{455}{2211}{550}{balloon}{TextEvent}
  \band{1}\tline{4}{\ct{TextEvent} (\ty{Object} source, \kw{int} id)}
  \gap
  \band{2}
  \tline{4}{\kw{int} \fd{TEXT\_FIRST, TEXT\_LAST,}}
  \fl{TEXT\_VALUE\_CHANGED}
  \tline{4}{\itshape 1 overriding \lowgray{method hidden}}

  % AdjustmentEvent
  \classbox{AdjustmentEvent}{2223}{455}{2441}{732}{balloon}{AdjustmentEvent}
  \band{2}\tline{4}{\ct{AdjustmentEvent} (\ty{Adjustable} source, \kw{int} id,}
  \tline{29}{\kw{int} type, \kw{int} value)}
  \band{2}\tline{4}{\ct{AdjustmentEvent} (\ty{Adjustable} source, \kw{int} id,}
  \tline{29}{\kw{int} type, \kw{int} value, \kw{boolean} isAdjusting)}
  \gap
  \grp{Accessor}
  \meth{51}{\ty{Adjustable}}{\mt{getAdjustable} ()}
  \meth{51}{\kw{int}}{\mt{getAdjustmentType} ()}
  \meth{51}{\kw{int}}{\mt{getValue} ()}
  \meth{51}{\kw{boolean}}{\mt{getValueIsAdjusting} ()}
  \grp{Other Public Methods}
  \meth{51}{\ty{String}}{paramString ()}
  \gap
  \band{6}
  \tline{4}{\kw{int} \fd{ADJUSTMENT\_FIRST,}}
  \fl{ADJUSTMENT\_LAST,}
  \fl{ADJUSTMENT\_VALUE\_CHANGED,}
  \fl{BLOCK\_DECREMENT,}
  \fl{BLOCK\_INCREMENT, TRACK,}
  \fl{UNIT\_DECREMENT, UNIT\_INCREMENT}

  % HierarchyEvent
  \classbox{HierarchyEvent}{2458}{455}{2662}{784}{balloon}{HierarchyEvent}
  \band{3}\tline{4}{\ct{HierarchyEvent} (\ty{Component} source, \kw{int} id,}
  \tline{29}{\ty{Component} changed,}
  \tline{29}{\ty{Container} changedParent)}
  \band{4}\tline{4}{\ct{HierarchyEvent} (\ty{Component} source, \kw{int} id,}
  \tline{29}{\ty{Component} changed,}
  \tline{29}{\ty{Container} changedParent,}
  \tline{29}{\kw{long} changeFlags)}
  \gap
  \grp{Accessor}
  \meth{56}{\kw{long}}{\mt{getChangeFlags} ()}
  \meth{56}{\ty{Component}}{\mt{getChanged} ()}
  \meth{56}{\ty{Container}}{\mt{getChangedParent} ()}
  \meth{56}{\ty{Component}}{\mt{getComponent} ()}
  \grp{Other Public Methods}
  \meth{56}{\ty{String}}{paramString ()}
  \gap
  \band{7}
  \tline{4}{\kw{int} \fd{ANCESTOR\_MOVED,}}
  \fl{ANCESTOR\_RESIZED,}
  \fl{DISPLAYABILITY\_CHANGED,}
  \fl{HIERARCHY\_CHANGED,}
  \fl{HIERARCHY\_FIRST, HIERARCHY\_LAST,}
  \fl{PARENT\_CHANGED,}
  \fl{SHOWING\_CHANGED}

  % InvocationEvent
  \classbox{InvocationEvent}{2679}{455}{2890}{849}{balloon}{InvocationEvent}
  \band{2}\tline{14}{\ct{InvocationEvent} (\ty{Object} source,}
  \tline{40}{\ty{Runnable} runnable)}
  \band{3}\tline{14}{\ct{InvocationEvent} (\ty{Object} source,}
  \tline{40}{\ty{Runnable} runnable, \ty{Object} notifier,}
  \tline{40}{\kw{boolean} catchThrowables)}
  \band{4}\tline{14}{\ct{InvocationEvent} (\ty{Object} source,}
  \tline{40}{\ty{Runnable} runnable,}
  \tline{40}{\ty{Runnable} listener,}
  \tline{40}{\kw{boolean} catchThrowables)}
  \band{3}\rmark{\hashm}\tline{14}{\ct{InvocationEvent} (\ty{Object} source, \kw{int} id,}
  \tline{40}{\ty{Runnable} runnable, \ty{Object} notifier,}
  \tline{40}{\kw{boolean} catchThrowables)}
  \gap
  \grp{Accessor}
  \meth{49}{\kw{boolean}}{\mt{isDispatched} ()}
  \meth{49}{\ty{Exception}}{\mt{getException} ()}
  \meth{49}{\ty{Throwable}}{\mt{getThrowable} ()}
  \meth{49}{\kw{long}}{\mt{getWhen} ()}
  \grp{Other Public Methods}
  \meth{49}{\kw{void}}{dispatch ()}
  \meth{49}{\ty{String}}{paramString ()}
  \gap
  \band{3}
  \tline{14}{\kw{int} \fd{INVOCATION\_DEFAULT,}}
  \tline{29}{\fd{INVOCATION\_FIRST,}}
  \tline{29}{\fd{INVOCATION\_LAST}}
  \band{1}\rmark{\hashm}\tline{14}{\kw{boolean} catchExceptions}
  \band{1}\rmark{\hashm}\tline{14}{\ty{Object} notifier}
  \band{1}\rmark{\hashm}\tline{14}{\ty{Runnable} runnable}

  % ActiveEvent
  \classbox[skyhead]{ActiveEvent}{2731}{338}{2887}{381}{ifaceicon}{\itshape ActiveEvent}
  \meth{22}{\kw{void}}{\textit{\mt{dispatch}} ()}

  % connectors
  \coordinate (awtbus) at (0,424);
  \coordinate (componentbus) at (0,645);
  \coordinate (inputbus) at (0,1074);
  \coordinate (mousebus) at (0,1603);
  \draw[extends] (EventObject.east) -- (AWTEvent.west);
  \foreach \sub in {ComponentEvent,ActionEvent,ItemEvent,InputMethodEvent,TextEvent,AdjustmentEvent,HierarchyEvent,InvocationEvent}
    \draw[extends] (AWTEvent.south) -- (AWTEvent.south |- awtbus) -| (\sub.north);
  \foreach \sub in {FocusEvent,WindowEvent,PaintEvent,InputEvent,ContainerEvent}
    \draw[extends] (ComponentEvent.south) -- (ComponentEvent.south |- componentbus) -| (\sub.north);
  \foreach \sub in {KeyEvent,MouseEvent}
    \draw[extends] (InputEvent.south) -- (InputEvent.south |- inputbus) -| (\sub.north);
  \draw[extends] (KeyEvent.south) -- (MenuKeyEvent.north);
  \foreach \sub in {MenuDragMouseEvent,MouseWheelEvent}
    \draw[extends] (MouseEvent.south) -- (MouseEvent.south |- mousebus) -| (\sub.north);
  \draw[implements] (ActiveEvent.south) -- (InvocationEvent.north);
\end{tikzpicture}
\end{document}
